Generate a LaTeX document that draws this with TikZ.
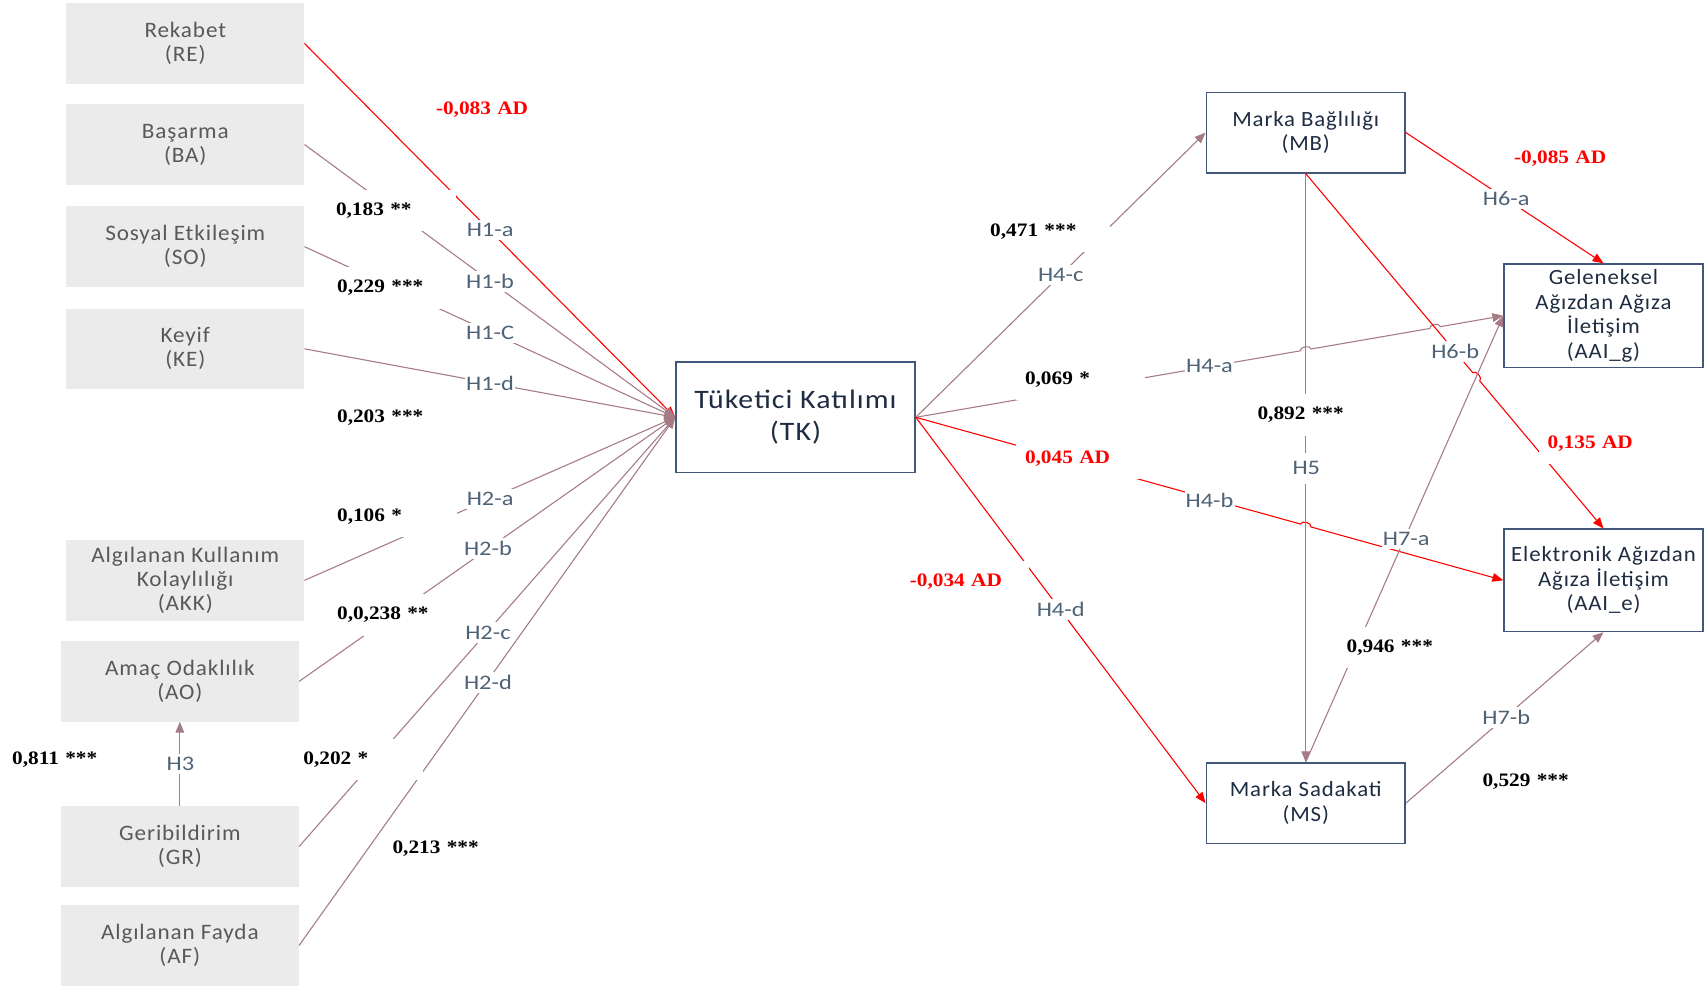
\documentclass[tikz,border=0pt]{standalone}
\usepackage{fontspec}
\setmainfont{Carlito}
\newfontfamily\boxfont[LetterSpace=4,FakeStretch=1.05]{Carlito}
\newfontfamily\tkfont[LetterSpace=4,FakeStretch=1.12]{Carlito}
\newfontfamily\hfont[FakeStretch=1.18]{Carlito}
\newfontfamily\numfont[FakeStretch=1.12]{Liberation Serif}
\usetikzlibrary{arrows.meta,calc}
\definecolor{boxgrey}{HTML}{EBEBEB}
\definecolor{lefttext}{HTML}{595959}
\definecolor{bordercol}{HTML}{41587A}
\definecolor{navytext}{HTML}{1F2D42}
\definecolor{labtext}{HTML}{4F6377}
\definecolor{mauve}{HTML}{A57B86}
\definecolor{hred}{HTML}{FF0000}
\begin{document}
\begin{tikzpicture}[x=1pt,y=-1pt,
  leftbox/.style={fill=boxgrey, minimum width=219pt, minimum height=74pt, inner sep=0pt,
    align=center, text=lefttext, font=\boxfont\fontsize{20.3}{22}\selectfont},
  rbox/.style={draw=bordercol, line width=1.4pt, fill=white, minimum width=183pt,
    inner sep=0pt, align=center, text=navytext, font=\boxfont\fontsize{20}{22.5}\selectfont},
  hlab/.style={fill=white, inner xsep=1pt, inner ysep=3pt, text=labtext,
    font=\hfont\fontsize{19}{20}\selectfont},
  % coefficients sit in fixed-width text boxes, text flush left
  num/.style={fill=white, anchor=west, text width=102pt, align=left,
    inner xsep=8pt, inner ysep=0pt, minimum height=38pt, text=black,
    font=\numfont\bfseries\fontsize{17.5}{19}\selectfont},
  rnum/.style={num, text=hred},
  mv/.style={draw=mauve, line width=1pt},
  rd/.style={draw=hred, line width=1pt},
  tip/.style={-{Triangle[length=10pt,width=8pt]}}
]
\useasboundingbox (0,0) rectangle (1568,908);

% antecedents of consumer engagement
\node[leftbox] (RE)  at (170.5,40)  {Rekabet\\(RE)};
\node[leftbox] (BA)  at (170.5,133) {Başarma\\(BA)};
\node[leftbox] (SO)  at (170.5,227) {Sosyal Etkileşim\\(SO)};
\node[leftbox] (KE)  at (170.5,321) {Keyif\\(KE)};
\node[leftbox] (AKK) at (170.5,534) {Algılanan Kullanım\\Kolaylılığı\\(AKK)};
\node[leftbox] (AO)  at (165.5,627) {Amaç Odaklılık\\(AO)};
\node[leftbox] (GR)  at (165.5,779) {Geribildirim\\(GR)};
\node[leftbox] (AF)  at (165.5,870) {Algılanan Fayda\\(AF)};

% central construct and outcomes
\node[rbox, minimum width=220pt, minimum height=102pt,
      font=\tkfont\fontsize{24.5}{29.5}\selectfont] (TK) at (732,384) {Tüketici Katılımı\\(TK)};
\node[rbox, minimum height=74pt] (MB)   at (1201.5,122)  {Marka Bağlılığı\\(MB)};
\node[rbox, minimum height=95pt] (AAIg) at (1475.5,290.5) {Geleneksel\\Ağızdan Ağıza\\İletişim\\(AAI\_g)};
\node[rbox, minimum height=94pt] (AAIe) at (1475.5,534)  {Elektronik Ağızdan\\Ağıza İletişim\\(AAI\_e)};
\node[rbox, minimum height=74pt] (MS)   at (1201.5,739)  {Marka Sadakati\\(MS)};

% crossing points where a line hops over another
\coordinate (xa) at (intersection of TK.east--AAIg.west and MB.south--MS.north);
\coordinate (xb) at (intersection of TK.east--AAIg.west and MB.south--AAIe.north);
\coordinate (xc) at (intersection of TK.east--AAIe.west and MB.south--MS.north);
\coordinate (xd) at (intersection of MB.south--AAIe.north and MS.north--AAIg.west);

% paths into TK
\draw[rd,tip] (RE.east) -- (TK.west);
\draw[mv,tip] (BA.east) -- (TK.west);
\draw[mv,tip] (SO.east) -- (TK.west);
\draw[mv,tip] (KE.east) -- (TK.west);
\draw[mv,tip] (AKK.east) -- (TK.west);
\draw[mv,tip] (AO.east) -- (TK.west);
\draw[mv,tip] (GR.east) -- (TK.west);
\draw[mv,tip] (AF.east) -- (TK.west);
\draw[mv,tip] (GR.north) -- (AO.south);

% paths out of TK
\draw[mv,tip] (TK.east) -- (MB.west);
\draw[mv,tip] (TK.east) -- ($(xa)!5pt!(TK.east)$) to[bend left=90] ($(xa)!5pt!(AAIg.west)$)
  -- ($(xb)!5pt!(TK.east)$) to[bend left=90] ($(xb)!5pt!(AAIg.west)$) -- (AAIg.west);
\draw[rd,tip] (TK.east) -- ($(xc)!5pt!(TK.east)$) to[bend left=90] ($(xc)!5pt!(AAIe.west)$) -- (AAIe.west);
\draw[rd,tip] (TK.east) -- (MS.west);

% brand paths
\draw[mv,tip] (MB.south) -- (MS.north);
\draw[rd,tip] (MB.east) -- (AAIg.north);
\draw[rd,tip] (MB.south) -- ($(xd)!5pt!(MB.south)$) to[bend left=90] ($(xd)!5pt!(AAIe.north)$) -- (AAIe.north);
\draw[mv,tip] (MS.north) -- (AAIg.west);
\draw[mv,tip] (MS.east) -- (AAIe.south);

% hypothesis labels
\node[hlab] (lH1a) at (451,212) {H1-a};
\node[hlab] (lH1b) at (451,259) {H1-b};
\node[hlab] (lH1c) at (451,306) {H1-C};
\node[hlab] (lH1d) at (451,353) {H1-d};
\node[hlab] (lH2a) at (451,459) {H2-a};
\node[hlab] (lH2b) at (449,505) {H2-b};
\node[hlab] (lH2c) at (449,582) {H2-c};
\node[hlab] (lH2d) at (449,628) {H2-d};
\node[hlab] (lH3)  at (166,703) {H3};
\node[hlab] (lH4c) at (976,253) {H4-c};
\node[hlab] (lH4a) at (1113,337) {H4-a};
\node[hlab] (lH4b) at (1113,460) {H4-b};
\node[hlab] (lH4d) at (976,561) {H4-d};
\node[hlab, inner ysep=8pt] (lH5) at (1202,431) {H5};
\node[hlab] (lH6a) at (1386,183) {H6-a};
\node[hlab] (lH6b) at (1339,323) {H6-b};
\node[hlab] (lH7a) at (1294,496) {H7-a};
\node[hlab] (lH7b) at (1386,660) {H7-b};

% path coefficients
\node[rnum] (cRE)  at (393,101)  {-0,083 AD};
\node[num]  (cBA)  at (301,194)  {0,183 **};
\node[num]  (cSO)  at (302,265)  {0,229 ***};
\node[num]  (cKE)  at (302,384)  {0,203 ***};
\node[num]  (cAKK) at (302,475)  {0,106 *};
\node[num]  (cAO)  at (302,566)  {0,0,238 **};
\node[num]  (cGR)  at (271,699)  {0,202 *};
\node[num]  (cAF)  at (353,781)  {0,213 ***};
\node[num]  (cH3)  at (3,699)    {0,811 ***};
\node[num]  (cH4c) at (903,213)  {0,471 ***};
\node[num]  (cH4a) at (935,349)  {0,069 *};
\node[rnum] (cH4b) at (935,422)  {0,045 AD};
\node[rnum] (cH4d) at (829,535)  {-0,034 AD};
\node[num]  (cH5)  at (1149,382) {0,892 ***};
\node[rnum] (cH6a) at (1385,146) {-0,085 AD};
\node[rnum] (cH6b) at (1416,408) {0,135 AD};
\node[num]  (cH7a) at (1231,596) {0,946 ***};
\node[num]  (cH7b) at (1356,719) {0,529 ***};
\end{tikzpicture}
\end{document}
